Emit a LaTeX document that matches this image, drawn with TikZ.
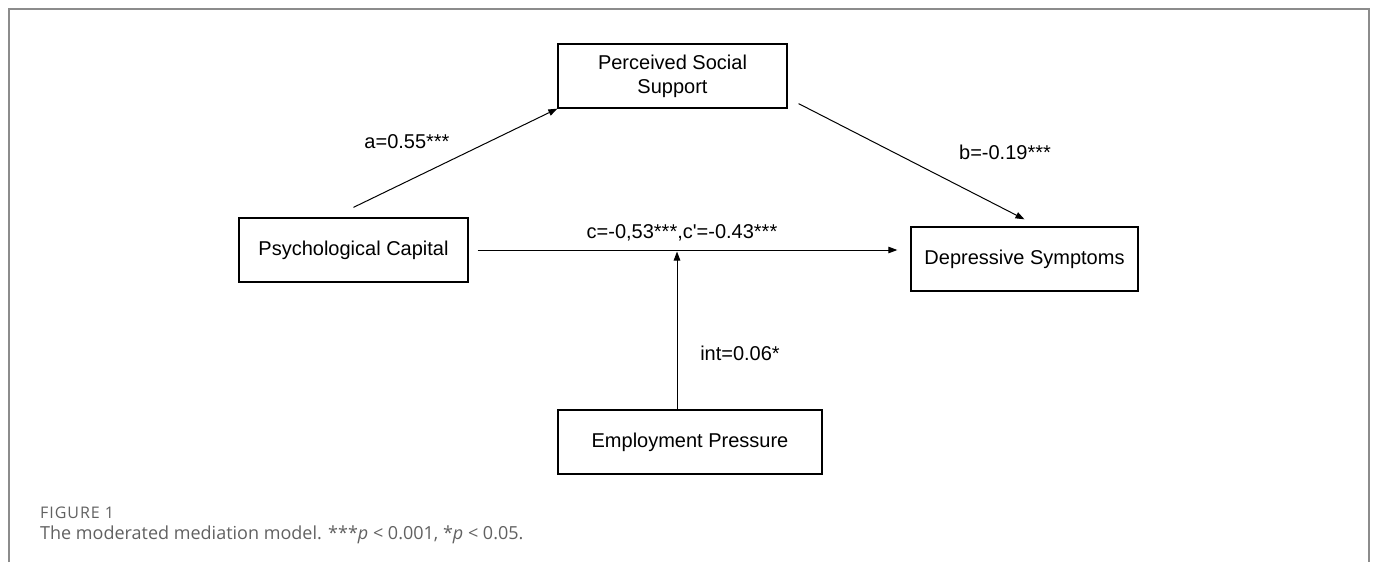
\documentclass[tikz,border=0pt]{standalone}
\usepackage{fontspec}
\setmainfont{Liberation Sans}
\newfontfamily\capfont{Open Sans}
\newfontfamily\capfontwide[LetterSpace=6]{Open Sans}
\usepackage{tikz}
\usetikzlibrary{arrows.meta,positioning,calc}
\colorlet{cframe}{black!45}
\colorlet{ccap}{black!62}
\tikzset{
  varbox/.style={draw=black, line width=1.3pt, minimum width=229pt, minimum height=64pt, inner sep=0pt, align=center, font=\fontsize{20}{24}\selectfont},
  effect/.style={-{Triangle[length=9pt,width=6.5pt]}, line width=1pt},
  coef/.style={font=\fontsize{20}{24}\selectfont, inner sep=0pt}
}

\begin{document}
\begin{tikzpicture}[x=1pt,y=-1pt]
\useasboundingbox (0,0) rectangle (1375,562);
\draw[cframe, line width=1.5pt] (9,562) -- (9,9) -- (1369,9) -- (1369,562);
\node[varbox] (support) at (672.5,76) {Perceived Social\\Support};
\node[varbox] (psycap) at (353.5,250) {Psychological Capital};
\node[varbox, minimum width=227pt] (depress) at (1024.5,259) {Depressive Symptoms};
\node[varbox, minimum width=264pt] (employ) at (690,442) {Employment Pressure};
\coordinate (mod) at (677,250);
\draw[effect] ([yshift=10pt]psycap.north) -- (support.south west);
\draw[effect] ([xshift=11pt,yshift=5pt]support.south east) -- ([yshift=7pt]depress.north);
\draw[effect, shorten <=9pt, shorten >=13pt] (psycap.east) -- (psycap.east -| depress.west);
\draw[effect, shorten >=1.5pt] (employ.north -| mod) -- (mod);
\node[coef] (alab) at (407,142) {a=0.55***};
\node[coef] (blab) at (1005,152) {b=-0.19***};
\node[coef] (clab) at (682,233) {c=-0,53***,c\textquotesingle=-0.43***};
\node[coef] (intlab) at (740,353) {int=0.06*};
\node[anchor=west, inner sep=0pt, text=ccap, font=\capfontwide\fontsize{16}{19}\selectfont] (fignum) at (40,513) {FIGURE 1};
\node[anchor=west, inner sep=0pt, text=ccap, font=\capfont\fontsize{18}{21}\selectfont] (figcap) at (40,535) {The moderated mediation model. ***\textit{p} < 0.001, *\textit{p} < 0.05.};
\end{tikzpicture}
\end{document}
